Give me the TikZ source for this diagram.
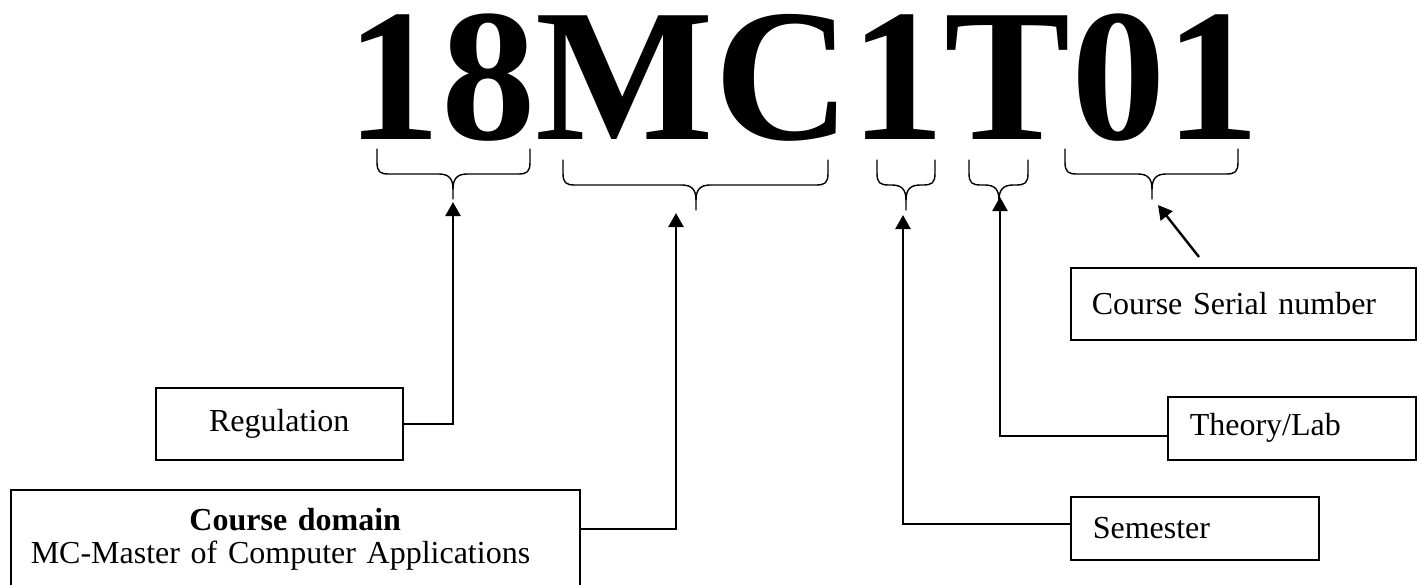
\documentclass[tikz,border=0pt]{standalone}
\usepackage{fontspec}
\setmainfont{Liberation Serif}
\usetikzlibrary{arrows.meta,calc}
\newcommand\mybrace[6]{%
  \draw[brc] (#1,#4) -- (#1,#5-12) .. controls (#1,#5-2) and (#1+3,#5) .. (#1+12,#5) -- (#3-14,#5) .. controls (#3-4,#5) and (#3,#5+5) .. (#3,#5+15) -- (#3,#6);
  \draw[brc] (#2,#4) -- (#2,#5-12) .. controls (#2,#5-2) and (#2-3,#5) .. (#2-12,#5) -- (#3+14,#5) .. controls (#3+4,#5) and (#3,#5+5) .. (#3,#5+15);}
\begin{document}
\begin{tikzpicture}[x=1pt,y=-1pt,
  lbl/.style={draw, line width=1.5pt, font=\fontsize{32}{33}\selectfont, inner ysep=0pt},
  conn/.style={line width=2.4pt, -{Triangle[length=14pt,width=15pt]}},
  brc/.style={line width=1.4pt, line cap=round, line join=round}]
\fill[white] (0,0) rectangle (1417,584);
\clip (0,0) rectangle (1417,584);
% big code
\node[anchor=base west, inner sep=0pt, text height=129pt, text depth=0pt, font=\fontsize{189}{150}\selectfont\bfseries] (code) at (346.4,139) {18MC1T01};
% braces
\mybrace{377}{530}{453}{149}{174}{199}
\mybrace{563}{828}{696}{160}{185}{210}
\mybrace{877}{935}{906}{160}{185}{210}
\mybrace{969}{1028}{999}{160}{185}{210}
\mybrace{1065}{1238}{1152}{149}{174}{199}
% arrow tip points
\coordinate (t1) at (453,202);
\coordinate (t2) at (676,213);
\coordinate (t3) at (903,215);
\coordinate (t4) at (1000,197);
\coordinate (t5) at (1158,205);
\coordinate (s0) at (1199,257);
% boxes
\node[lbl, anchor=north west, minimum width=247pt, minimum height=72pt, inner xsep=0pt] (reg) at (155,387) {Regulation};
\node[lbl, anchor=north west, minimum height=100pt, text width=529pt, inner xsep=20pt, align=left] (cd) at (10,489)
  {\makebox[529pt]{\textbf{Course domain}}\\MC-Master of Computer Applications};
\node[lbl, anchor=north west, minimum height=72pt, text width=303pt, inner xsep=21pt, align=left] (ser) at (1070,267) {Course Serial number};
\node[lbl, anchor=north west, minimum height=63pt, text width=204pt, inner xsep=22pt, align=left] (tl) at (1167,396) {Theory/Lab};
\node[lbl, anchor=north west, minimum height=63pt, text width=204pt, inner xsep=22pt, align=left] (sem) at (1070,496) {Semester};
% connectors
\draw[conn] (reg.east) -| (t1);
\draw[conn] ($(cd.north east)+(0,40)$) -| (t2);
\draw[conn] ($(sem.west)+(0,-4)$) -| (t3);
\draw[conn] ($(tl.west)+(0,8)$) -| (t4);
\draw[conn] (s0) -- (t5);
\end{tikzpicture}
\end{document}
